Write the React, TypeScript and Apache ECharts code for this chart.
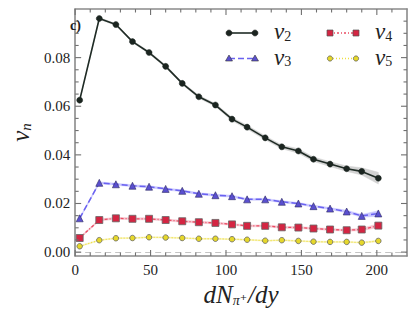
import React, { useEffect, useRef } from "react";
import * as echarts from "echarts";

const xs = [3, 16, 27, 38, 49, 60, 71, 82, 93, 104, 114, 126, 137, 148, 158, 169, 180, 190, 201];
const v2 = [0.0625, 0.0961, 0.0936, 0.0866, 0.0821, 0.0764, 0.0694, 0.0639, 0.0605, 0.0547, 0.0514, 0.047, 0.0433, 0.0416, 0.0382, 0.0362, 0.0343, 0.0332, 0.0304];
const v3 = [0.0139, 0.0285, 0.0279, 0.0273, 0.0269, 0.026, 0.0252, 0.024, 0.0234, 0.023, 0.0217, 0.0217, 0.0207, 0.02, 0.0189, 0.0179, 0.0167, 0.0149, 0.0159];
const v4 = [0.0058, 0.0132, 0.0139, 0.0137, 0.0137, 0.0132, 0.0127, 0.0123, 0.012, 0.0114, 0.0108, 0.0108, 0.0102, 0.0101, 0.0097, 0.0093, 0.009, 0.0093, 0.0109];
const v5 = [0.0024, 0.0049, 0.0057, 0.0058, 0.0061, 0.006, 0.0058, 0.0055, 0.0055, 0.0053, 0.0051, 0.0047, 0.0049, 0.0046, 0.0043, 0.0042, 0.0042, 0.0039, 0.0046];
const e2 = [0.0004, 0.0004, 0.0004, 0.0004, 0.0005, 0.0005, 0.0005, 0.0006, 0.0006, 0.0007, 0.0008, 0.0008, 0.0008, 0.0009, 0.0009, 0.001, 0.0011, 0.0015, 0.0024];
const e3 = [0.0003, 0.0004, 0.0004, 0.0004, 0.0004, 0.0004, 0.0004, 0.0004, 0.0004, 0.0004, 0.0004, 0.0004, 0.0004, 0.0004, 0.0004, 0.0004, 0.0005, 0.0006, 0.0011];
const e4 = [0.0003, 0.0004, 0.0004, 0.0004, 0.0004, 0.0004, 0.0004, 0.0004, 0.0004, 0.0004, 0.0004, 0.0004, 0.0004, 0.0004, 0.0004, 0.0004, 0.0004, 0.0005, 0.0008];
const e5 = [0.0002, 0.0002, 0.0002, 0.0002, 0.0002, 0.0002, 0.0002, 0.0002, 0.0002, 0.0002, 0.0002, 0.0002, 0.0002, 0.0002, 0.0002, 0.0002, 0.0002, 0.0002, 0.0003];

const xMajor = [0, 50, 100, 150, 200];
const xMinor = [10, 20, 30, 40, 60, 70, 80, 90, 110, 120, 130, 140, 160, 170, 180, 190, 210];
const yMajor = [0, 0.02, 0.04, 0.06, 0.08];
const yMinor = [0.005, 0.01, 0.015, 0.025, 0.03, 0.035, 0.045, 0.05, 0.055, 0.065, 0.07, 0.075, 0.085, 0.09, 0.095];

const SERIF = "'Liberation Serif', 'DejaVu Serif', serif";
const FRAME = "#8a8a8a";
const TICK = "#707070";
const MAJOR_LEN = 6;
const MINOR_LEN = 3.5;

const pairs = (ys: number[]) => xs.map((x, i) => [x, ys[i]]);

function bandSeries(name: string, ys: number[], es: number[], color: string) {
  return {
    name,
    type: "custom",
    silent: true,
    z: 1,
    data: xs.map((x, i) => [x, ys[i] - es[i], ys[i] + es[i]]),
    encode: { x: 0, y: [1, 2] },
    renderItem: (params: any, api: any) => {
      if (params.dataIndex !== 0) return null;
      const upper: number[][] = [];
      const lower: number[][] = [];
      for (let i = 0; i < xs.length; i++) {
        upper.push(api.coord([xs[i], ys[i] + es[i]]));
        lower.push(api.coord([xs[i], ys[i] - es[i]]));
      }
      return {
        type: "polygon",
        shape: { points: upper.concat(lower.reverse()) },
        style: { fill: color, stroke: color, lineWidth: 0.5 },
      };
    },
  };
}

// Tick marks on all four sides, positioned through the axes' scales.
function tickSeries() {
  return {
    type: "custom",
    silent: true,
    z: 20,
    clip: false,
    data: [[0, 0]],
    encode: { x: 0, y: 1 },
    renderItem: (params: any, api: any) => {
      if (params.dataIndex !== 0) return null;
      const cs = params.coordSys;
      const left = cs.x;
      const right = cs.x + cs.width;
      const top = cs.y;
      const bottom = cs.y + cs.height;
      const children: any[] = [];
      const mk = () => ({ stroke: TICK, lineWidth: 1.1 });
      const addX = (v: number, len: number) => {
        const px = api.coord([v, 0])[0];
        children.push({ type: "line", shape: { x1: px, y1: bottom, x2: px, y2: bottom - len }, style: mk() });
        children.push({ type: "line", shape: { x1: px, y1: top, x2: px, y2: top + len }, style: mk() });
      };
      const addY = (v: number, len: number) => {
        const py = api.coord([0, v])[1];
        children.push({ type: "line", shape: { x1: left, y1: py, x2: left + len, y2: py }, style: mk() });
        children.push({ type: "line", shape: { x1: right, y1: py, x2: right - len, y2: py }, style: mk() });
      };
      xMajor.forEach((v) => addX(v, MAJOR_LEN));
      xMinor.forEach((v) => addX(v, MINOR_LEN));
      yMajor.forEach((v) => addY(v, MAJOR_LEN));
      yMinor.forEach((v) => addY(v, MINOR_LEN));
      return { type: "group", children };
    },
  };
}

function richLabel(sub: string) {
  return {
    text: "{v|v}{s|" + sub + "}",
    rich: {
      v: { fontFamily: SERIF, fontStyle: "italic", fontSize: 23, fill: "#222", lineHeight: 23 },
      s: {
        fontFamily: SERIF,
        fontSize: 14,
        fill: "#222",
        verticalAlign: "bottom",
        padding: [10, 0, 0, 0],
        lineHeight: 14,
      },
    },
  };
}

function legendItem(x: number, y: number, lineType: any, sym: string, symColor: string, sub: string, lineColor: string) {
  const els: any[] = [];
  els.push({
    type: "line",
    z: 100,
    shape: { x1: x, y1: y, x2: x + 26, y2: y },
    style: { stroke: lineColor, lineWidth: 1.6, lineDash: lineType },
  });
  [x, x + 26].forEach((cx) => {
    if (sym === "circle") {
      els.push({ type: "circle", z: 101, shape: { cx, cy: y, r: 3 }, style: { fill: symColor, stroke: "#222", lineWidth: 0.6 } });
    } else if (sym === "smallcircle") {
      els.push({ type: "circle", z: 101, shape: { cx, cy: y, r: 2.6 }, style: { fill: symColor, stroke: "#555", lineWidth: 0.7 } });
    } else if (sym === "rect") {
      els.push({ type: "rect", z: 101, shape: { x: cx - 3, y: y - 3, width: 6, height: 6 }, style: { fill: symColor, stroke: "#555", lineWidth: 0.7 } });
    } else {
      els.push({
        type: "polygon",
        z: 101,
        shape: { points: [[cx, y - 3.5], [cx - 3.5, y + 2.5], [cx + 3.5, y + 2.5]] },
        style: { fill: symColor, stroke: "#333", lineWidth: 0.6 },
      });
    }
  });
  els.push({
    type: "text",
    z: 101,
    x: x + 45,
    y: y - 13,
    style: richLabel(sub),
  });
  return els;
}

export default function App() {
  const ref = useRef<HTMLDivElement>(null);
  useEffect(() => {
    if (!ref.current) return;
    const chart = echarts.init(ref.current, null, { renderer: "svg" });
    const axisLine = { show: true, onZero: false, lineStyle: { color: FRAME, width: 1.6 } };
    const labelStyle = { fontFamily: SERIF, fontSize: 15, color: "#222" };
    const xBase = { type: "value", min: 0, max: 220, splitLine: { show: false }, axisTick: { show: false } };
    const yBase = { type: "value", min: -0.0016, max: 0.1, splitLine: { show: false }, axisTick: { show: false } };

    const option: any = {
      animation: false,
      grid: { left: 64, right: 8, top: 9, bottom: 52, containLabel: false },
      xAxis: [
        {
          ...xBase,
          position: "bottom",
          axisLine,
          axisLabel: { show: true, customValues: xMajor, margin: 6, ...labelStyle },
          name: "{i|dN}{s|π⁺}{i|/dy}",
          nameLocation: "middle",
          nameGap: 26,
          nameTextStyle: {
            rich: {
              i: { fontFamily: SERIF, fontStyle: "italic", fontSize: 25, color: "#222", lineHeight: 25 },
              s: { fontFamily: SERIF, fontStyle: "italic", fontSize: 14, color: "#222", verticalAlign: "bottom", padding: [10, 1, 0, 0], lineHeight: 14 },
            },
          },
        },
        {
          ...xBase,
          position: "top",
          axisLine,
          axisLabel: { show: false },
        },
      ],
      yAxis: [
        {
          ...yBase,
          position: "left",
          axisLine,
          axisLabel: { show: true, customValues: yMajor, margin: 5, formatter: (v: number) => v.toFixed(2), ...labelStyle },
          name: "{i|v}{s|n}",
          nameLocation: "middle",
          nameGap: 36,
          nameRotate: 90,
          nameTextStyle: {
            rich: {
              i: { fontFamily: SERIF, fontStyle: "italic", fontSize: 25, color: "#222", lineHeight: 25 },
              s: { fontFamily: SERIF, fontStyle: "italic", fontSize: 15, color: "#222", verticalAlign: "bottom", padding: [10, 0, 0, 0], lineHeight: 15 },
            },
          },
        },
        {
          ...yBase,
          position: "right",
          axisLine,
          axisLabel: { show: false },
        },
      ],
      series: [
        bandSeries("b2", v2, e2, "#d2d2d2"),
        bandSeries("b3", v3, e3, "#c9c6ff"),
        bandSeries("b4", v4, e4, "#f7c5cf"),
        bandSeries("b5", v5, e5, "#f7f0b0"),
        tickSeries(),
        {
          name: "v2",
          type: "line",
          data: pairs(v2),
          symbol: "circle",
          symbolSize: 6,
          itemStyle: { color: "#1b2520", borderColor: "#1b2520", borderWidth: 0.5 },
          lineStyle: { color: "#1f2b25", width: 1.6 },
          z: 5,
          markLine: {
            silent: true,
            symbol: "none",
            label: { show: false },
            lineStyle: { color: "#c4c4c4", type: [6, 4], width: 1 },
            data: [{ yAxis: 0 }],
            z: 0,
          },
        },
        {
          name: "v3",
          type: "line",
          data: pairs(v3),
          symbol: "triangle",
          symbolSize: 7,
          itemStyle: { color: "#5a4fd0", borderColor: "#2d2a60", borderWidth: 0.6 },
          lineStyle: { color: "#6a62f0", width: 1.5, type: [6, 3] },
          z: 5,
        },
        {
          name: "v4",
          type: "line",
          data: pairs(v4),
          symbol: "rect",
          symbolSize: 7,
          itemStyle: { color: "#d42542", borderColor: "#666", borderWidth: 0.8 },
          lineStyle: { color: "#ea4d64", width: 1.3, type: [3, 2, 1, 2] },
          z: 5,
        },
        {
          name: "v5",
          type: "line",
          data: pairs(v5),
          symbol: "circle",
          symbolSize: 5.5,
          itemStyle: { color: "#e6d82a", borderColor: "#666", borderWidth: 0.8 },
          lineStyle: { color: "#eee040", width: 1.3, type: [1, 2] },
          z: 5,
        },
      ],
      graphic: [
        {
          type: "text",
          x: 70,
          y: 18,
          z: 100,
          style: { text: "c)", fontFamily: SERIF, fontWeight: "bold", fontSize: 14, fill: "#222" },
        },
        ...legendItem(229, 33, [], "circle", "#1b2520", "2", "#1f2b25"),
        ...legendItem(229, 58.5, [6, 3], "triangle", "#5a4fd0", "3", "#6a62f0"),
        ...legendItem(330, 33, [2, 2, 1, 2], "rect", "#d42542", "4", "#ea4d64"),
        ...legendItem(330, 58.5, [1, 2], "smallcircle", "#e6d82a", "5", "#eee040"),
      ],
    };
    chart.setOption(option);
    return () => chart.dispose();
  }, []);
  return <div ref={ref} style={{ width: 415, height: 312, position: "absolute", left: 0, top: 0 }} />;
}
